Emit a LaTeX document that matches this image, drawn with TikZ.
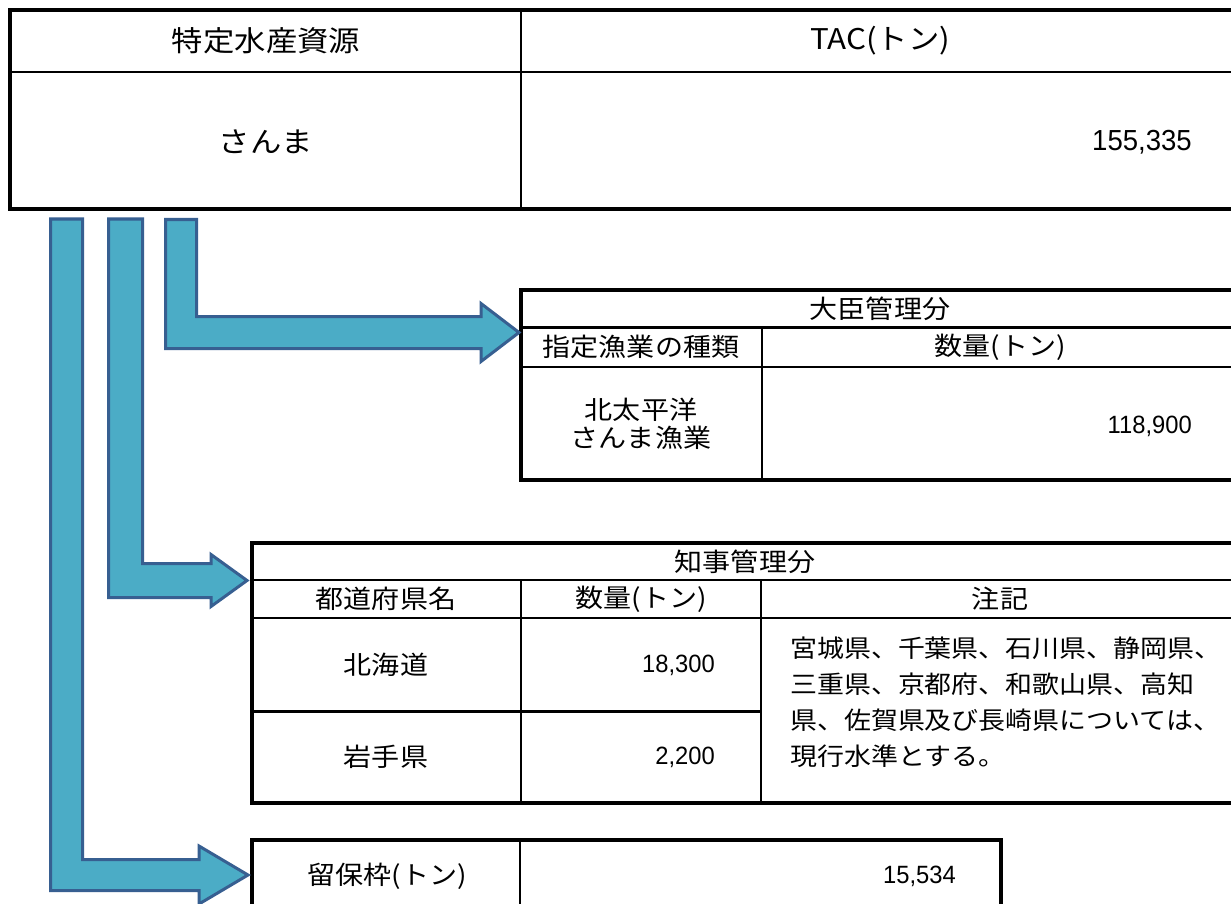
\documentclass[tikz,border=0pt]{standalone}
\usepackage{fontspec}
\newfontfamily\jp[FakeStretch=1.1]{Noto Sans CJK JP}
\newfontfamily\numf[FakeStretch=0.95]{Liberation Sans}
\definecolor{arrowfill}{RGB}{75,172,198}
\definecolor{arrowline}{RGB}{55,95,145}
\begin{document}
\begin{tikzpicture}[x=1pt,y=-1pt,
  outer/.style={line width=3.8pt},
  inner/.style={line width=2.3pt},
  blockarrow/.style={fill=arrowfill,draw=arrowline,line width=3pt,line join=miter},
  bigtxt/.style={inner sep=0pt,font=\jp\fontsize{28.5}{32}\selectfont},
  txt/.style={inner sep=0pt,font=\jp\fontsize{25.5}{28}\selectfont},
  bignum/.style={inner sep=0pt,anchor=east,font=\numf\fontsize{29}{32}\selectfont},
  num/.style={inner sep=0pt,anchor=east,font=\numf\fontsize{25}{28}\selectfont},
  note/.style={inner sep=0pt,anchor=base west,font=\jp\fontsize{24.5}{28}\selectfont}]
\useasboundingbox (0,0) rectangle (1231,904);
\clip (0,0) rectangle (1231,904);
\fill[white] (0,0) rectangle (1231,904);

% ---------- top table ----------
\coordinate (tA) at (10,10);
\coordinate (tB) at (1238,209);
\draw[inner] (521,10) -- (521,209);
\draw[inner] (10,72) -- (1238,72);
\draw[outer] (tA) rectangle (tB);
\node[bigtxt] (h1) at (266,41) {特定水産資源};
\node[bigtxt] (h2) at (880,41) {TAC(トン)};
\node[bigtxt] (v1) at (266,142) {さんま};
\node[bignum] (v2) at (1192,142) {155,335};

% ---------- table 2 ----------
\coordinate (dA) at (521,290);
\coordinate (dB) at (1238,480);
\draw[inner] (521,327.5) -- (1238,327.5);
\draw[inner] (521,367) -- (1238,367);
\draw[inner] (762,327.5) -- (762,480);
\draw[outer] (dA) rectangle (dB);
\node[txt] (d0) at (880,309) {大臣管理分};
\node[txt] (d1) at (641,347) {指定漁業の種類};
\node[txt] (d2) at (1000,347) {数量(トン)};
\node[txt,align=center,font=\jp\fontsize{25.5}{28}\selectfont] (d3) at (641,424) {北太平洋\\さんま漁業};
\node[num] (d4) at (1192,426) {118,900};

% ---------- table 3 ----------
\coordinate (cA) at (252,543);
\coordinate (cB) at (1238,803);
\draw[inner] (252,580) -- (1238,580);
\draw[inner] (252,618) -- (1238,618);
\draw[inner] (521,580) -- (521,803);
\draw[inner] (761,580) -- (761,803);
\draw[inner] (252,711.5) -- (761,711.5);
\draw[outer] (cA) rectangle (cB);
\node[txt] (c0) at (745,562) {知事管理分};
\node[txt] (c1) at (386,599) {都道府県名};
\node[txt] (c2) at (641,599) {数量(トン)};
\node[txt] (c3) at (1000,599) {注記};
\node[txt] (c4) at (386,665) {北海道};
\node[num] (c5) at (715,665) {18,300};
\node[txt] (c6) at (386,757) {岩手県};
\node[num] (c7) at (715,757) {2,200};
\node[note] (n1) at (790,657) {宮城県、千葉県、石川県、静岡県、};
\node[note] (n2) at (790,693) {三重県、京都府、和歌山県、高知};
\node[note] (n3) at (790,729) {県、佐賀県及び長崎県については、};
\node[note] (n4) at (790,765) {現行水準とする。};

% ---------- table 4 ----------
\coordinate (rA) at (252,840);
\coordinate (rB) at (1001,930);
\draw[inner] (520,840) -- (520,930);
\draw[outer] (rA) rectangle (rB);
\node[txt] (r1) at (387,876) {留保枠(トン)};
\node[num] (r2) at (956,876) {15,534};

% ---------- block arrows ----------
\coordinate (tip3) at (519,332.5);
\coordinate (tip2) at (247,580.5);
\coordinate (tip1) at (248,875);
\draw[blockarrow] (165.5,219.5) -- (196.5,219.5) -- (196.5,316.5) -- (481,316.5)
  -- (481,303.5) -- (tip3) -- (481,361.5) -- (481,348.5) -- (165.5,348.5) -- cycle;
\draw[blockarrow] (108.5,219) -- (142.5,219) -- (142.5,563.5) -- (211,563.5)
  -- (211,554.5) -- (tip2) -- (211,606.5) -- (211,597.5) -- (108.5,597.5) -- cycle;
\draw[blockarrow] (50.5,219) -- (82.5,219) -- (82.5,859.5) -- (199,859.5)
  -- (199,846) -- (tip1) -- (199,904) -- (199,890.5) -- (50.5,890.5) -- cycle;
\end{tikzpicture}
\end{document}
